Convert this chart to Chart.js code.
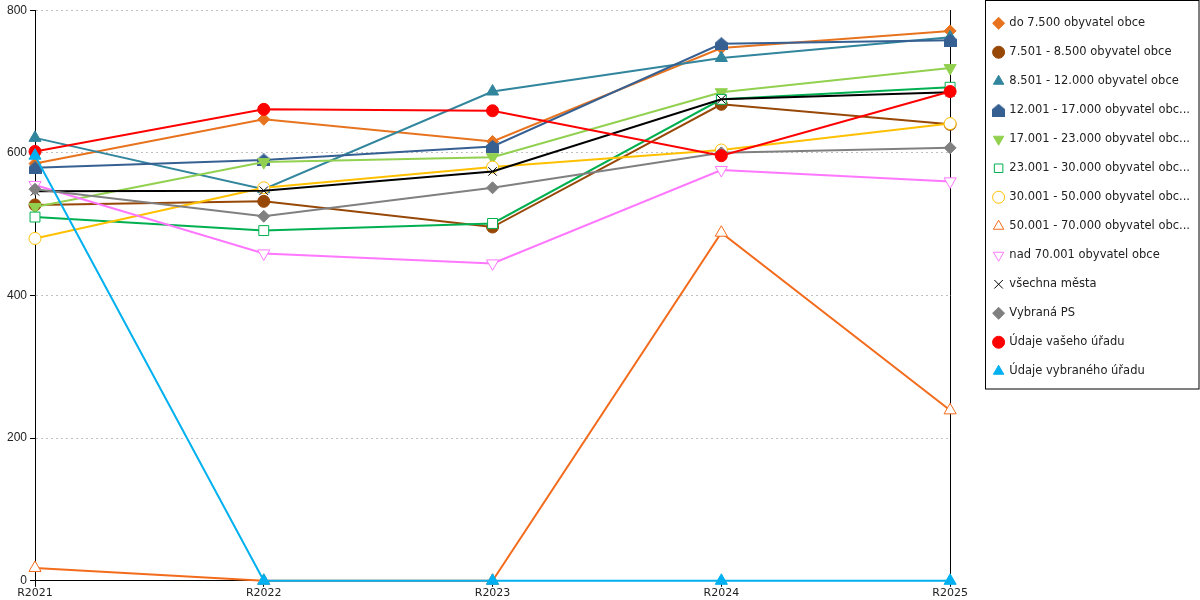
<!DOCTYPE html>
<html>
<head>
<meta charset="utf-8">
<script src="https://cdn.jsdelivr.net/npm/chart.js@4"></script>
<style>
  html, body { margin: 0; padding: 0; background: #fff; }
  #wrap { width: 1200px; height: 600px; }
</style>
</head>
<body>
<div id="wrap"><canvas id="chart" width="1200" height="600"></canvas></div>
<script>
// categories
var years = ['R2021', 'R2022', 'R2023', 'R2024', 'R2025'];

// series values
var do7500       = [585, 647, 616, 747, 771];
var od7501       = [527, 532, 496, 668, 640];
var od8501       = [621, 549, 686, 733, 762];
var od12001      = [579, 590, 609, 753, 758];
var od17001      = [524, 587, 594, 685, 719];
var od23001      = [510, 491, 501, 675, 692];
var od30001      = [480, 551, 580, 604, 641];
var od50001      = [18, 0, 0, 488, 239];
var nad70001     = [555, 459, 445, 576, 560];
var vsechnaMesta = [546, 547, 574, 675, 685];
var vybranaPS    = [549, 511, 551, 600, 607];
var vasUrad      = [602, 661, 659, 596, 686];
var vybranyUrad  = [596, 0, 0, 0, 0];

var yTicks = [0, 200, 400, 600, 800];

// little "house" marker for the 12.001 - 17.000 series
function houseMarker(color) {
    var c = document.createElement('canvas');
    c.width = 13; c.height = 13;
    var g = c.getContext('2d');
    g.fillStyle = color;
    g.beginPath();
    g.moveTo(6.5, 0);
    g.lineTo(13, 5.5);
    g.lineTo(13, 13);
    g.lineTo(0, 13);
    g.lineTo(0, 5.5);
    g.closePath();
    g.fill();
    return c;
}

var markerRadius = { triangle: 7, rect: 7, circle: 6, rectRot: 6, crossRot: 6 };

function series(label, values, color, style, opts) {
    opts = opts || {};
    return {
        label: label,
        data: values,
        borderColor: color,
        backgroundColor: color,
        borderWidth: 2,
        pointStyle: style,
        pointRadius: markerRadius[style] || 6,
        pointRotation: opts.rotation || 0,
        pointBackgroundColor: opts.hollow ? '#ffffff' : color,
        pointBorderColor: color,
        pointBorderWidth: 1,
        clip: false,
        tension: 0
    };
}

var datasets = [
    series('do 7.500 obyvatel obce', do7500, '#E8731E', 'rectRot'),
    series('7.501 - 8.500 obyvatel obce', od7501, '#974706', 'circle'),
    series('8.501 - 12.000 obyvatel obce', od8501, '#31859C', 'triangle'),
    series('12.001 - 17.000 obyvatel obce', od12001, '#366092', houseMarker('#366092')),
    series('17.001 - 23.000 obyvatel obce', od17001, '#92D050', 'triangle', {rotation: 180}),
    series('23.001 - 30.000 obyvatel obce', od23001, '#00B050', 'rect', {hollow: true}),
    series('30.001 - 50.000 obyvatel obce', od30001, '#FFC000', 'circle', {hollow: true}),
    series('50.001 - 70.000 obyvatel obce', od50001, '#F36B1C', 'triangle', {hollow: true}),
    series('nad 70.001 obyvatel obce', nad70001, '#FF77FF', 'triangle', {hollow: true, rotation: 180}),
    series('všechna města', vsechnaMesta, '#000000', 'crossRot'),
    series('Vybraná PS', vybranaPS, '#808080', 'rectRot'),
    series('Údaje vašeho úřadu', vasUrad, '#FF0000', 'circle'),
    series('Údaje vybraného úřadu', vybranyUrad, '#00B0F0', 'triangle')
];
// later series are painted on top
datasets.forEach(function(ds, i) { ds.order = datasets.length - i; });

var legendPad = 17.5;

// box around the legend
var legendFrame = {
    id: 'legendFrame',
    afterDraw: function(chart) {
        var lg = chart.legend, c = chart.ctx;
        if (!lg || !lg.legendHitBoxes.length) return;
        var last = lg.legendHitBoxes[lg.legendHitBoxes.length - 1];
        var x0 = Math.round(lg.left + legendPad - 9) + 0.5;
        var y0 = lg.top + 0.5;
        c.save();
        c.strokeStyle = '#000';
        c.lineWidth = 1;
        c.strokeRect(x0, y0, chart.width - 1 - x0, Math.round(last.top + last.height + 12) - y0);
        c.restore();
    }
};

var ctx = document.getElementById('chart').getContext('2d');
var chart = new Chart(ctx, {
    type: 'line',
    data: { labels: years, datasets: datasets },
    plugins: [legendFrame],
    options: {
        responsive: false,
        animation: false,
        devicePixelRatio: 1,
        layout: { padding: 0 },
        scales: {
            x: {
                offset: false,
                grid: { display: true, drawOnChartArea: false, tickLength: 6, color: '#000' },
                border: { color: '#000' },
                ticks: { color: '#222', font: { family: 'DejaVu Sans', size: 11 }, maxRotation: 0, padding: 0 }
            },
            top: {
                type: 'category',
                position: 'top',
                labels: years,
                grid: { display: false },
                border: { display: false },
                ticks: { display: false },
                afterFit: function(axis) { axis.height = 10; }
            },
            y: {
                min: yTicks[0],
                max: yTicks[yTicks.length - 1],
                afterBuildTicks: function(axis) {
                    axis.ticks = yTicks.map(function(v) { return { value: v }; });
                },
                afterFit: function(axis) { axis.width = 35; },
                grid: { color: '#c0c0c0', tickColor: '#000', tickLength: 5, lineWidth: 1, tickBorderDash: [] },
                border: { color: '#000', dash: [2, 3] },
                ticks: { color: '#222', font: { family: 'Liberation Sans', size: 12 }, padding: 3 }
            },
            right: {
                position: 'right',
                min: yTicks[0],
                max: yTicks[yTicks.length - 1],
                grid: { display: false },
                border: { color: '#000' },
                ticks: { display: false },
                afterFit: function(axis) { axis.width = 26; }
            }
        },
        plugins: {
            tooltip: { enabled: false },
            legend: {
                position: 'right',
                align: 'start',
                maxWidth: 300,
                labels: {
                    usePointStyle: true,
                    boxWidth: 10,
                    boxHeight: 8.5,
                    padding: legendPad,
                    color: '#222',
                    font: { family: 'DejaVu Sans', size: 11.5 },
                    generateLabels: function(chart) {
                        var items = Chart.defaults.plugins.legend.labels.generateLabels(chart);
                        items.sort(function(a, b) { return a.datasetIndex - b.datasetIndex; });
                        items.forEach(function(it) {
                            if (it.text.length > 28) it.text = it.text.slice(0, 28) + '...';
                        });
                        return items;
                    }
                }
            }
        }
    }
});
</script>
</body>
</html>
